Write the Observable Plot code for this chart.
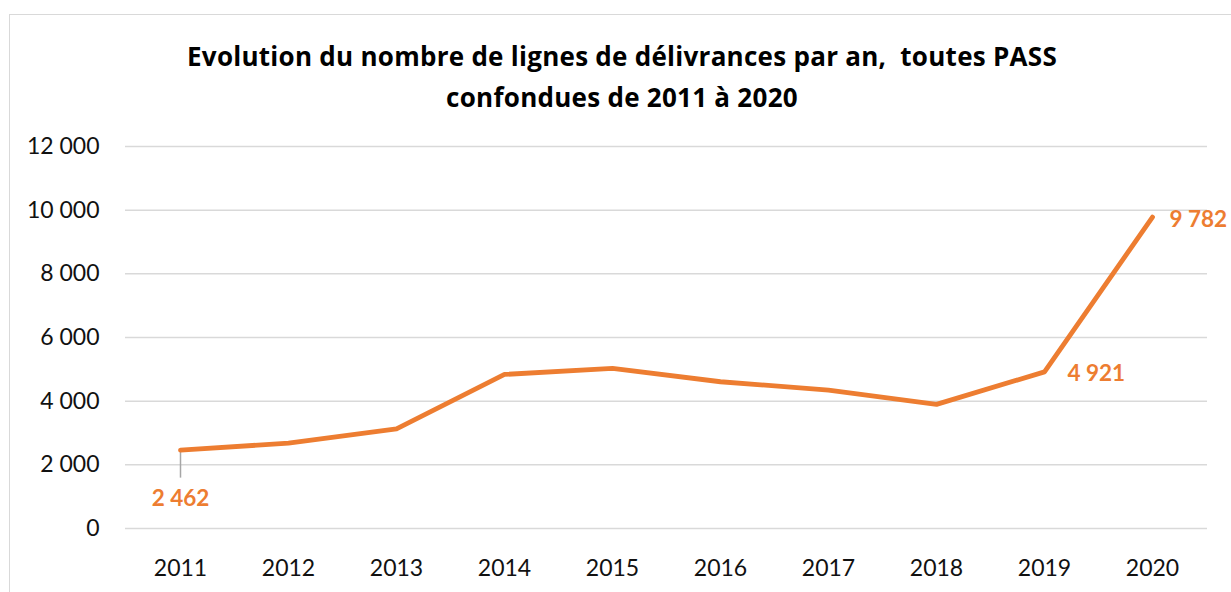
<!DOCTYPE html>
<html>
<head>
<meta charset="utf-8">
<script src="https://cdn.jsdelivr.net/npm/d3@7"></script>
<script src="https://cdn.jsdelivr.net/npm/@observablehq/plot@0.6"></script>
<style>
  html, body { margin: 0; padding: 0; background: #fff; }
  body { width: 1231px; height: 592px; position: relative; overflow: hidden; font-family: Lato, "Open Sans", sans-serif; }
  #frame { position: absolute; left: 9px; top: 14px; width: 1300px; height: 700px; border: 1.5px solid #d9d9d9; box-sizing: border-box; }
  #title { position: absolute; left: 0; width: 1244px; top: 36px; text-align: center; font-family: "Open Sans", Lato, sans-serif; font-weight: bold; font-size: 26px; line-height: 41px; color: #000; letter-spacing: 0.27px; }
  #chart { position: absolute; left: 0; top: 0; }
</style>
</head>
<body>
<div id="frame"></div>
<div id="chart"></div>
<div id="title">Evolution du nombre de lignes de délivrances par an,&nbsp; toutes PASS<br>confondues de 2011 à 2020</div>
<script>
const years = [2011, 2012, 2013, 2014, 2015, 2016, 2017, 2018, 2019, 2020];
const values = [2462, 2680, 3130, 4840, 5030, 4610, 4350, 3900, 4921, 9782];
const yTicks = [0, 2000, 4000, 6000, 8000, 10000, 12000];
const labelYears = [2011, 2019, 2020];

const data = years.map((y, i) => ({year: y, value: values[i]}));
const fmt = d => d3.format(",")(d).replace(/,/g, " ");
const lab = data.filter(d => labelYears.includes(d.year));
const orange = "#ED7D31";

const chart = Plot.plot({
  width: 1231,
  height: 592,
  marginTop: 146,
  marginBottom: 64,
  marginLeft: 125,
  marginRight: 24,
  style: {fontFamily: "Lato, 'Open Sans', sans-serif", background: "transparent"},
  x: {type: "point", domain: years, padding: 0.5},
  y: {domain: [0, 12000]},
  marks: [
    Plot.gridY(yTicks, {stroke: "#d9d9d9", strokeOpacity: 1, strokeWidth: 1.5}),
    Plot.axisY(yTicks, {tickSize: 0, tickPadding: 26, tickFormat: fmt, fontSize: 23, fill: "#111", label: null}),
    Plot.axisX(years, {tickSize: 0, tickPadding: 31, tickFormat: d => String(d), fontSize: 23, fill: "#111", label: null}),
    Plot.ruleX(lab.filter(d => d.year === 2011), {x: "year", y1: "value", y2: "value", insetTop: 2, insetBottom: -28, stroke: "#a6a6a6", strokeWidth: 1.5}),
    Plot.line(data, {x: "year", y: "value", stroke: orange, strokeWidth: 4.8, strokeLinejoin: "round", strokeLinecap: "round"}),
    Plot.text(lab.filter(d => d.year === 2011), {x: "year", y: "value", text: d => fmt(d.value), dy: 49, fill: orange, fontWeight: "bold", fontSize: 22.5}),
    Plot.text(lab.filter(d => d.year === 2019), {x: "year", y: "value", text: d => fmt(d.value), dx: 23, dy: 2, textAnchor: "start", fill: orange, fontWeight: "bold", fontSize: 22.5}),
    Plot.text(lab.filter(d => d.year === 2020), {x: "year", y: "value", text: d => fmt(d.value), dx: 17, dy: 3, textAnchor: "start", fill: orange, fontWeight: "bold", fontSize: 22.5})
  ]
});
document.getElementById("chart").appendChild(chart);
</script>
</body>
</html>
